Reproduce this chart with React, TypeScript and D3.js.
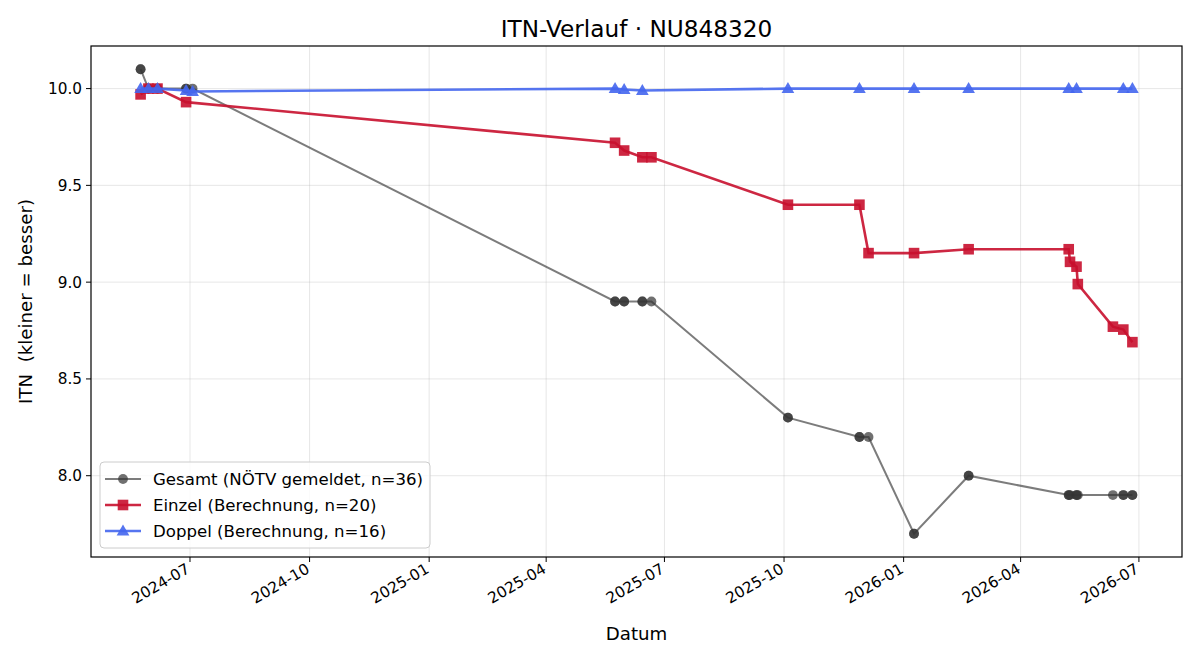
import React from "react";
import * as d3 from "d3";

// ITN history of one player: total ranking value plus the computed singles / doubles values
const titleText = "ITN-Verlauf · NU848320";
const xLabel = "Datum";
const yLabel = "ITN  (kleiner = besser)";

const gesamtDates = [
  "2024-05-24", "2024-05-24", "2024-05-30", "2024-05-30", "2024-06-06", "2024-06-06",
  "2024-06-28", "2024-06-28", "2024-07-03",
  "2025-05-24", "2025-05-24", "2025-05-31", "2025-05-31", "2025-06-14", "2025-06-14", "2025-06-21",
  "2025-10-04", "2025-10-04", "2025-11-28", "2025-11-28", "2025-12-05",
  "2026-01-09", "2026-01-09", "2026-02-20", "2026-02-20",
  "2026-05-08", "2026-05-08", "2026-05-09", "2026-05-14", "2026-05-14", "2026-05-15",
  "2026-06-11", "2026-06-19", "2026-06-19", "2026-06-26", "2026-06-26",
];
const gesamtValues = [
  10.1, 10.1, 10.0, 10.0, 10.0, 10.0,
  10.0, 10.0, 10.0,
  8.9, 8.9, 8.9, 8.9, 8.9, 8.9, 8.9,
  8.3, 8.3, 8.2, 8.2, 8.2,
  7.7, 7.7, 8.0, 8.0,
  7.9, 7.9, 7.9, 7.9, 7.9, 7.9,
  7.9, 7.9, 7.9, 7.9, 7.9,
];

const einzelDates = [
  "2024-05-24", "2024-05-30", "2024-06-06", "2024-06-28",
  "2025-05-24", "2025-05-31", "2025-06-14", "2025-06-21",
  "2025-10-04", "2025-11-28", "2025-12-05", "2026-01-09", "2026-02-20",
  "2026-05-08", "2026-05-09", "2026-05-14", "2026-05-15",
  "2026-06-11", "2026-06-19", "2026-06-26",
];
const einzelValues = [
  9.97, 10.0, 10.0, 9.93,
  9.72, 9.68, 9.645, 9.645,
  9.4, 9.4, 9.15, 9.15, 9.17,
  9.17, 9.105, 9.08, 8.99,
  8.77, 8.755, 8.69,
];

const doppelDates = [
  "2024-05-24", "2024-05-30", "2024-06-06", "2024-06-28", "2024-07-03",
  "2025-05-24", "2025-05-31", "2025-06-14",
  "2025-10-04", "2025-11-28", "2026-01-09", "2026-02-20",
  "2026-05-08", "2026-05-14", "2026-06-19", "2026-06-26",
];
const doppelValues = [
  10.0, 10.0, 10.0, 9.99, 9.985,
  10.0, 9.995, 9.99,
  10.0, 10.0, 10.0, 10.0,
  10.0, 10.0, 10.0, 10.0,
];

const yTicks = [8.0, 8.5, 9.0, 9.5, 10.0];
const xTickDates = [
  "2024-07-01", "2024-10-01", "2025-01-01", "2025-04-01", "2025-07-01",
  "2025-10-01", "2026-01-01", "2026-04-01", "2026-07-01",
];

type Pt = { d: Date; v: number };
const parse = d3.utcParse("%Y-%m-%d");
const zip = (ds: string[], vs: number[]): Pt[] => ds.map((d, i) => ({ d: parse(d) as Date, v: vs[i] }));

const gesamt = zip(gesamtDates, gesamtValues);
const einzel = zip(einzelDates, einzelValues);
const doppel = zip(doppelDates, doppelValues);

const W = 1200;
const H = 660;
const left = 91;
const right = 1182;
const top = 46;
const bottom = 557;
const FONT = "DejaVu Sans, sans-serif";

const GRAY_LINE = "#444444";
const GRAY_DOT = "#333333";
const RED = "#c8102e";
const BLUE = "#4466ee";

const TICK_FS = 15.3;
const LEGEND_FS = 16.6;
const LABEL_FS = 18.2;
const TITLE_FS = 23.2;

export default function App() {
  const all = [...gesamt, ...einzel, ...doppel];
  const [dMin, dMax] = d3.extent(all, (p) => +p.d) as [number, number];
  const dPad = (dMax - dMin) * 0.05;
  const [vMin, vMax] = d3.extent(all, (p) => p.v) as [number, number];
  const vPad = (vMax - vMin) * 0.05;

  const x = d3.scaleUtc().domain([new Date(dMin - dPad), new Date(dMax + dPad)]).range([left, right]);
  const y = d3.scaleLinear().domain([vMin - vPad, vMax + vPad]).range([bottom, top]);

  const line = d3
    .line<Pt>()
    .x((p) => x(p.d))
    .y((p) => y(p.v));

  const tri = d3.symbol().type(d3.symbolTriangle).size(70)();
  const fmt = d3.utcFormat("%Y-%m");

  return (
    <svg width={W} height={H} style={{ display: "block", position: "absolute", left: 0, top: 0 }} fontFamily={FONT}>
      <rect x={0} y={0} width={W} height={H} fill="#ffffff" />
      {/* grid */}
      <g stroke="#b0b0b0" strokeOpacity={0.35} strokeWidth={0.9}>
        {xTickDates.map((t) => (
          <line key={t} x1={x(parse(t) as Date)} x2={x(parse(t) as Date)} y1={top} y2={bottom} />
        ))}
        {yTicks.map((t) => (
          <line key={t} x1={left} x2={right} y1={y(t)} y2={y(t)} />
        ))}
      </g>

      {/* Gesamt */}
      <path d={line(gesamt) || ""} fill="none" stroke={GRAY_LINE} strokeOpacity={0.7} strokeWidth={2} />
      {gesamt.map((p, i) => (
        <circle key={i} cx={x(p.d)} cy={y(p.v)} r={4.9} fill={GRAY_DOT} fillOpacity={0.7} />
      ))}

      {/* Einzel */}
      <path d={line(einzel) || ""} fill="none" stroke={RED} strokeOpacity={0.9} strokeWidth={2.6} />
      {einzel.map((p, i) => (
        <rect
          key={i}
          x={x(p.d) - 5.3}
          y={y(p.v) - 5.3}
          width={10.6}
          height={10.6}
          fill={RED}
          fillOpacity={0.9}
        />
      ))}

      {/* Doppel */}
      <path d={line(doppel) || ""} fill="none" stroke={BLUE} strokeOpacity={0.9} strokeWidth={2.6} />
      {doppel.map((p, i) => (
        <path key={i} d={tri || ""} transform={`translate(${x(p.d)},${y(p.v) + 0.8})`} fill={BLUE} fillOpacity={0.9} />
      ))}

      {/* frame */}
      <rect x={left} y={top} width={right - left} height={bottom - top} fill="none" stroke="#000" strokeWidth={1.2} />

      {/* y axis */}
      {yTicks.map((t) => (
        <g key={t} transform={`translate(${left},${y(t)})`}>
          <line x1={-5} x2={0} stroke="#000" strokeWidth={1} />
          <text x={-9} dy="0.35em" textAnchor="end" fontSize={TICK_FS} fill="#000">
            {t.toFixed(1)}
          </text>
        </g>
      ))}
      {/* x axis */}
      {xTickDates.map((t) => {
        const px = x(parse(t) as Date);
        return (
          <g key={t}>
            <line x1={px} x2={px} y1={bottom} y2={bottom + 5} stroke="#000" strokeWidth={1} />
            <text
              transform={`translate(${px + 1},${bottom + 15}) rotate(-30)`}
              textAnchor="end"
              fontSize={TICK_FS}
              fill="#000"
            >
              {fmt(parse(t) as Date)}
            </text>
          </g>
        );
      })}

      <text x={(left + right) / 2} y={640} textAnchor="middle" fontSize={LABEL_FS} fill="#000">
        {xLabel}
      </text>
      <text
        transform={`translate(32,${(top + bottom) / 2}) rotate(-90)`}
        textAnchor="middle"
        fontSize={LABEL_FS}
        fill="#000"
        style={{ whiteSpace: "pre" }}
      >
        {yLabel}
      </text>
      <text x={(left + right) / 2} y={37} textAnchor="middle" fontSize={TITLE_FS} fill="#000">
        {titleText}
      </text>

      {/* legend */}
      <g>
        <rect x={100} y={462} width={330} height={86} rx={4} fill="#fff" fillOpacity={0.8} stroke="#cccccc" strokeWidth={1} />
        <g transform="translate(0,479)">
          <line x1={105} x2={141} stroke={GRAY_LINE} strokeOpacity={0.7} strokeWidth={2} />
          <circle cx={123} cy={0} r={4.9} fill={GRAY_DOT} fillOpacity={0.7} />
          <text x={153} dy="0.35em" fontSize={LEGEND_FS} fill="#000">Gesamt (NÖTV gemeldet, n=36)</text>
        </g>
        <g transform="translate(0,505)">
          <line x1={105} x2={141} stroke={RED} strokeOpacity={0.9} strokeWidth={2.6} />
          <rect x={117.7} y={-5.3} width={10.6} height={10.6} fill={RED} fillOpacity={0.9} />
          <text x={153} dy="0.35em" fontSize={LEGEND_FS} fill="#000">Einzel (Berechnung, n=20)</text>
        </g>
        <g transform="translate(0,531)">
          <line x1={105} x2={141} stroke={BLUE} strokeOpacity={0.9} strokeWidth={2.6} />
          <path d={tri || ""} transform="translate(123,0.8)" fill={BLUE} fillOpacity={0.9} />
          <text x={153} dy="0.35em" fontSize={LEGEND_FS} fill="#000">Doppel (Berechnung, n=16)</text>
        </g>
      </g>
    </svg>
  );
}
